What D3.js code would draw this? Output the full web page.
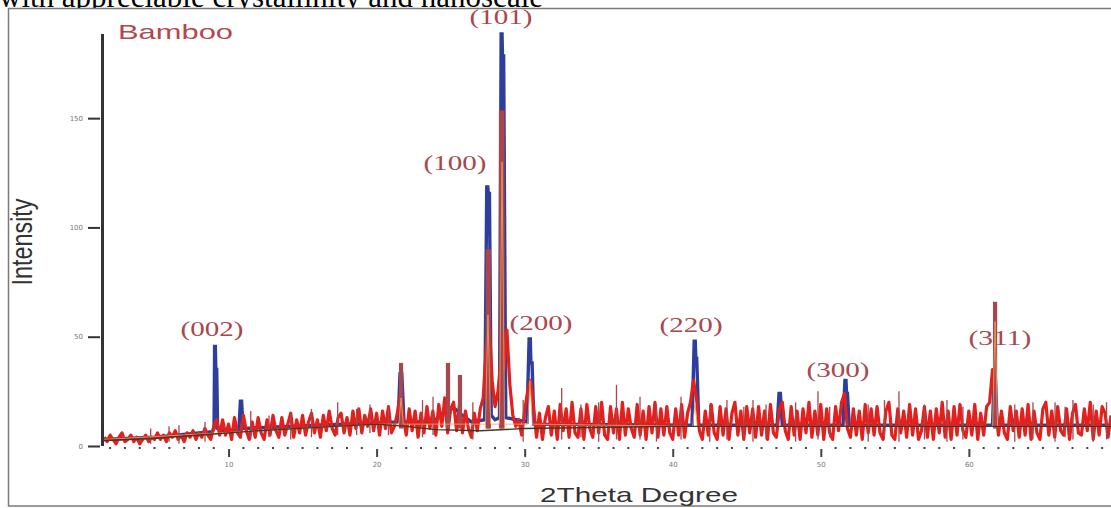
<!DOCTYPE html>
<html>
<head>
<meta charset="utf-8">
<title>Bamboo XRD</title>
<script src="https://d3js.org/d3.v7.min.js"></script>
<style>
  body { margin: 0; background: #fff; }
  svg { display: block; }
</style>
</head>
<body>
<svg width="1111" height="508"></svg>
<script>
// observed counts, step scan starting at 1.6 deg, 0.2 deg steps
const obsStart = 1.6, obsStep = 0.2;
const obsCounts = [
  4,2,5,3,1,4,6,2,3,5,
  2,4,1,3,5,2,4,3,6,3,
  5,2,6,4,7,3,5,2,6,4,
  7,3,6,4,8,5,3,9,12,5,
  12,5,10,3,13,6,4,14,7,3,
  11,4,13,6,3,12,5,14,7,4,
  13,5,10,15,4,12,6,14,5,11,
  15,6,12,4,14,7,16,8,5,13,
  15,6,13,5,16,8,17,6,14,9,
  17,7,15,5,16,8,18,6,9,15,
  24,13,5,17,7,16,4,15,6,18,
  8,16,5,19,9,22,6,17,20,7,
  19,6,16,8,4,15,7,17,22,45,
  58,30,18,25,40,35,53,28,14,9,
  12,5,16,25,30,18,4,15,3,13,
  18,5,16,3,19,7,17,4,20,6,
  4,17,3,19,8,4,18,6,20,5,
  3,18,6,17,3,20,5,17,8,4,
  19,5,16,3,18,6,20,4,17,5,
  18,6,3,17,5,19,4,15,20,30,
  22,7,3,16,5,19,6,3,18,5,
  17,3,15,20,5,16,3,18,6,17,
  4,18,5,16,3,19,6,4,17,20,
  7,3,18,5,16,3,17,6,20,4,
  16,5,19,3,17,6,3,18,7,20,
  24,8,4,17,5,16,3,19,6,17,
  5,18,6,3,16,20,5,3,17,6,
  16,4,19,5,17,3,7,18,4,16,
  3,17,6,20,4,16,3,18,5,19,
  7,4,16,5,19,3,15,5,18,20,
  35,18,5,16,6,3,18,7,16,4,
  17,5,19,3,16,6,3,17,20,5,
  16,4,18,7,5,17,3,15,19,6,
  5,17,7,20,3,16,5,18,15,4,
  14
];

// calculated profile (blue)
const calcTheta = [1.6,5.0,8.9,9.02,9.06,9.11,9.14,9.2,9.26,9.5,10.7,10.8,10.88,10.98,16.0,
  21.45,21.58,21.7,21.85,23.8,24.3,24.8,25.3,25.8,26.4,27.3,27.44,27.51,27.54,27.62,27.74,28.0,
  28.3,28.41,28.47,28.5,28.58,28.72,30.15,30.3,30.38,30.42,30.5,30.62,41.3,41.45,41.52,41.56,
  41.62,41.76,47.05,47.18,47.27,47.4,51.5,51.63,51.7,51.74,51.8,51.92,61.6,61.7,61.8,61.92,69.6];
const calcCounts = [3,4,6.5,8,45.5,45.5,35,35,8,7,7.5,20.5,20.5,8,9.5,
  11,33,33,11,11,14,17,17,14,11,12,118.5,118.5,115.5,115.5,14,12,
  13,188.5,188.5,178.5,178.5,13,11,49,49,38,38,10,9.5,48,48,40,
  40,9.5,9.5,24,24,9.5,9.5,30,30,24,24,9.5,9.5,30,30,9.5,9.5];

// fitted component profile (orange)
const compTheta = [1.6,20,21.5,21.65,21.8,27.35,27.52,27.7,28.3,28.47,28.64,30.2,30.36,30.52,41.35,41.5,41.65,61.6,61.77,61.94,69.6];
const compCounts = [3,10,10,22,10,10,60,10,10,130,10,10,30,10,9,20,9,9,57,9,9];

// background (dark line)
const bgTheta = [1.6,5,9,12,16,20,22,24,27,30,40,50,60,69.6];
const bgCounts = [2.5,3.5,5.5,7,8.5,10,9,7.5,7,8,9,9,9,9];

// stick pattern (maroon)
const stickTheta = [21.65,24.82,25.63,27.5,27.58,28.4,28.5,61.77];
const stickCounts = [38,38,32.5,90,90,153.5,153.5,66];

// single-channel spikes in the observed data
const spikeTheta = [4.74,5.98,6.65,8.41,11.5,12.73,14.2,15.6,17.37,18.65,19.55,20.8,23.1,23.81,26.5,29.9,
  32.5,33.8,35.0,36.2,37.79,38.9,40.56,42.5,43.66,44.8,45.42,46.3,48.3,49.81,50.6,53.2,54.3,55.28,
  57.0,58.52,59.6,63.1,64.33,65.82,66.5,67.03,68.4,69.3];
const spikeLow = [1,2,1,2,3,4,3,4,5,5,6,5,4,5,3,2,3,4,2,3,3,2,3,2,3,4,2,3,2,3,4,2,3,2,3,2,3,2,3,2,4,3,2,3];
const spikeHigh = [8,9,9.5,11,16,14,15,17,20,17,19,18,21,22.5,20,21,26.5,19,20,28,22.5,19,22.5,19,21,18,21,19,
  20,25,18,19,21,25,19,21,18,19,20,20,18,21,19,20];

// reflections
const hklLabels = ["(002)","(100)","(101)","(200)","(220)","(300)","(311)"];
const hklTheta = [8.88,25.29,28.4,31.1,41.24,51.16,62.1];
const hklCounts = [53.5,129.5,196.3,56.3,55.4,34.8,49.6];

const xTicks = [10,20,30,40,50,60];
const yTicks = [0,50,100,150];

const svg = d3.select("svg");
const x = d3.scaleLinear().domain([1.52, 69.6]).range([103, 1111]);
const y = d3.scaleLinear().domain([0, 188.5]).range([446, 34]);

// caption of the page, cut by the figure
svg.append("text")
  .attr("x", -1).attr("y", 7)
  .style("font-family", "'Liberation Serif', 'Times New Roman', serif")
  .style("font-size", "31px")
  .attr("fill", "#000")
  .text("with appreciable crystallinity and nanoscale");

svg.append("rect")
  .attr("x", 8.5).attr("y", 8.5)
  .attr("width", 1120).attr("height", 497.5)
  .attr("fill", "#fff")
  .attr("stroke", "#7a7a7a")
  .attr("stroke-width", 1.5);

const line = d3.line().x(d => x(d[0])).y(d => y(d[1]));
const obs = obsCounts.map((c, i) => [obsStart + i * obsStep, c]);
const calc = calcTheta.map((t, i) => [t, calcCounts[i]]);
const comp = compTheta.map((t, i) => [t, compCounts[i]]);
const bg = bgTheta.map((t, i) => [t, bgCounts[i]]);

const plot = svg.append("g");

// calculated
plot.append("path").datum(calc)
  .attr("d", line)
  .attr("fill", "none")
  .attr("stroke", "#2d3e9c")
  .attr("stroke-width", 3.4);

// observed
plot.append("path").datum(obs)
  .attr("d", line)
  .attr("fill", "none")
  .attr("stroke", "#e2201d")
  .attr("stroke-width", 3.2)
  .attr("stroke-linejoin", "round");

// spikes
plot.selectAll("line.spike")
  .data(spikeTheta)
  .enter().append("line")
    .attr("class", "spike")
    .attr("x1", d => x(d)).attr("x2", d => x(d))
    .attr("y1", (d, i) => y(spikeLow[i]))
    .attr("y2", (d, i) => y(spikeHigh[i]))
    .attr("stroke", "#a8474f")
    .attr("stroke-width", 1.3);

// sticks
plot.selectAll("line.stick")
  .data(stickTheta)
  .enter().append("line")
    .attr("class", "stick")
    .attr("x1", d => x(d)).attr("x2", d => x(d))
    .attr("y1", y(8))
    .attr("y2", (d, i) => y(stickCounts[i]))
    .attr("stroke", "#a9454c")
    .attr("stroke-width", 4.2);

// component
plot.append("path").datum(comp)
  .attr("d", line)
  .attr("fill", "none")
  .attr("stroke", "#f2a55a")
  .attr("stroke-opacity", 0.8)
  .attr("stroke-width", 1);

// background
plot.append("path").datum(bg)
  .attr("d", line)
  .attr("fill", "none")
  .attr("stroke", "#3c3a28")
  .attr("stroke-width", 1.4);

// y axis
svg.append("line")
  .attr("x1", 102.5).attr("x2", 102.5)
  .attr("y1", y(188.5)).attr("y2", y(0))
  .attr("stroke", "#333").attr("stroke-width", 3);

const yAxis = svg.append("g")
  .attr("transform", "translate(100,0)")
  .call(d3.axisLeft(y).tickValues(yTicks).tickSize(12).tickPadding(5));
yAxis.select(".domain").remove();
yAxis.selectAll(".tick line").attr("stroke", "#333").attr("stroke-width", 2);
yAxis.selectAll(".tick text")
  .attr("fill", "#777")
  .style("font-family", "'DejaVu Sans', sans-serif")
  .style("font-size", "7px");

// x axis: dotted minor ticks and short major ticks
svg.selectAll("rect.minor")
  .data(d3.range(2, 70).filter(d => d % 10 !== 0))
  .enter().append("rect")
    .attr("class", "minor")
    .attr("x", d => x(d) - 1).attr("y", 447)
    .attr("width", 2).attr("height", 2)
    .attr("fill", "#444");

const xAxis = svg.append("g")
  .attr("transform", "translate(0,449)")
  .call(d3.axisBottom(x).tickValues(xTicks).tickSize(8).tickPadding(5));
xAxis.select(".domain").remove();
xAxis.selectAll(".tick line").attr("stroke", "#444").attr("stroke-width", 2);
xAxis.selectAll(".tick text")
  .attr("fill", "#777")
  .style("font-family", "'DejaVu Sans', sans-serif")
  .style("font-size", "7px");

// reflection labels
svg.selectAll("text.hkl")
  .data(hklLabels)
  .enter().append("text")
    .attr("class", "hkl")
    .attr("x", (d, i) => x(hklTheta[i]))
    .attr("y", (d, i) => y(hklCounts[i]) + 7)
    .attr("text-anchor", "middle")
    .attr("textLength", 63)
    .attr("lengthAdjust", "spacingAndGlyphs")
    .attr("fill", "#a8474d")
    .style("font-family", "'Liberation Serif', 'Times New Roman', serif")
    .style("font-size", "21px")
    .text(d => d);

svg.append("text")
  .attr("x", 118).attr("y", 39)
  .attr("textLength", 115)
  .attr("lengthAdjust", "spacingAndGlyphs")
  .attr("fill", "#b5474d")
  .style("font-family", "'Liberation Sans', Arial, sans-serif")
  .style("font-size", "21px")
  .text("Bamboo");

svg.append("text")
  .attr("transform", "translate(32,242) rotate(-90)")
  .attr("text-anchor", "middle")
  .attr("textLength", 87)
  .attr("lengthAdjust", "spacingAndGlyphs")
  .attr("fill", "#333")
  .style("font-family", "'Liberation Sans', Arial, sans-serif")
  .style("font-size", "30px")
  .text("Intensity");

svg.append("text")
  .attr("x", 639).attr("y", 502)
  .attr("text-anchor", "middle")
  .attr("textLength", 198)
  .attr("lengthAdjust", "spacingAndGlyphs")
  .attr("fill", "#333")
  .style("font-family", "'Liberation Sans', Arial, sans-serif")
  .style("font-size", "21px")
  .text("2Theta Degree");
</script>
</body>
</html>
